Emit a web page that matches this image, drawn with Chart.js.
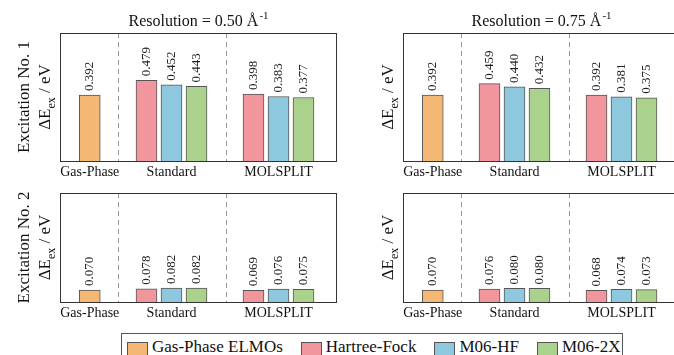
<!DOCTYPE html>
<html>
<head>
<meta charset="utf-8">
<script src="https://cdn.jsdelivr.net/npm/chart.js@4/dist/chart.umd.min.js"></script>
<style>
  html, body { margin: 0; padding: 0; background: #fff; width: 674px; height: 355px; overflow: hidden; }
  .panel { position: absolute; }
  #legend {
    position: absolute; left: 121px; top: 333px; width: 502px; height: 40px;
    box-sizing: border-box; border: 1px solid #555; padding: 3px 0 0 5px;
    display: flex; font-family: 'Liberation Serif', 'Times New Roman', serif; font-size: 17px; color: #111;
  }
  #legend .item { display: flex; align-items: flex-start; line-height: 19px; margin-right: 18px; white-space: nowrap; }
  #legend .swatch { width: 21px; height: 14px; box-sizing: border-box; border: 1px solid #555; margin: 5px 4px 0 0; }
</style>
</head>
<body>
<div class="panel" style="left:0;top:0;width:340px;height:182px"><canvas id="c1"></canvas></div>
<div class="panel" style="left:340px;top:0;width:343px;height:182px"><canvas id="c2"></canvas></div>
<div class="panel" style="left:0;top:182px;width:340px;height:141px"><canvas id="c3"></canvas></div>
<div class="panel" style="left:340px;top:182px;width:343px;height:141px"><canvas id="c4"></canvas></div>
<div id="legend"></div>
<script>
// categories and series
const groups = ['Gas-Phase', 'Standard', 'MOLSPLIT'];
const series = ['Gas-Phase ELMOs', 'Hartree-Fock', 'M06-HF', 'M06-2X'];
const colors = ['#F5B774', '#F1969C', '#8EC8DE', '#AAD28C'];

// values per panel: [gas-phase, standard HF, M06-HF, M06-2X, molsplit HF, M06-HF, M06-2X]
const exc1Res050 = [0.392, 0.479, 0.452, 0.443, 0.398, 0.383, 0.377];
const exc1Res075 = [0.392, 0.459, 0.440, 0.432, 0.392, 0.381, 0.375];
const exc2Res050 = [0.070, 0.078, 0.082, 0.082, 0.069, 0.076, 0.075];
const exc2Res075 = [0.070, 0.076, 0.080, 0.080, 0.068, 0.074, 0.073];

// layout on the x axis (slot units)
const SLOT = [0, 2.27, 3.27, 4.27, 6.55, 7.55, 8.55];
const SLOT_SERIES = [0, 1, 2, 3, 1, 2, 3];
const GROUP_POS = [0, 3.27, 7.55];
const DIVIDERS = [1.13, 5.45];

const SERIF = "'Liberation Serif', 'Times New Roman', serif";

function buildDatasets(values) {
  return series.map((name, s) => ({
    label: name,
    data: values.map((v, i) => ({ x: SLOT[i], y: v })).filter((p, i) => SLOT_SERIES[i] === s),
    backgroundColor: colors[s],
    borderColor: '#555',
    borderWidth: 1,
    barThickness: 21,
    grouped: false
  }));
}

const panelDeco = {
  id: 'panelDeco',
  beforeDatasetsDraw(chart, args, opts) {
    const ctx = chart.ctx, a = chart.chartArea, xs = chart.scales.x;
    ctx.save();
    ctx.strokeStyle = '#999';
    ctx.lineWidth = 1;
    ctx.setLineDash([5, 4]);
    DIVIDERS.forEach(d => {
      const px = Math.round(xs.getPixelForValue(d)) + 0.5;
      ctx.beginPath();
      ctx.moveTo(px, a.top);
      ctx.lineTo(px, a.bottom);
      ctx.stroke();
    });
    ctx.restore();
  },
  afterDatasetsDraw(chart, args, opts) {
    const ctx = chart.ctx, a = chart.chartArea;
    ctx.save();
    // frame
    ctx.strokeStyle = '#333';
    ctx.lineWidth = 1;
    ctx.strokeRect(a.left + 0.5, a.top + 0.5, a.right - a.left - 1, a.bottom - a.top);

    // value labels
    ctx.fillStyle = '#222';
    ctx.font = '13px ' + SERIF;
    ctx.textAlign = 'left';
    ctx.textBaseline = 'middle';
    chart.data.datasets.forEach((ds, di) => {
      chart.getDatasetMeta(di).data.forEach((bar, i) => {
        ctx.save();
        ctx.translate(bar.x, bar.y - 4);
        ctx.rotate(-Math.PI / 2);
        ctx.fillText(ds.data[i].y.toFixed(3), 0, 0);
        ctx.restore();
      });
    });

    const yc = (a.top + a.bottom) / 2;
    ctx.textBaseline = 'alphabetic';

    // ΔE_ex / eV
    ctx.save();
    ctx.translate(a.left - 10, yc);
    ctx.rotate(-Math.PI / 2);
    ctx.font = '17px ' + SERIF;
    const w1 = ctx.measureText('\u0394E').width;
    const w3 = ctx.measureText(' / eV').width;
    ctx.font = '12px ' + SERIF;
    const w2 = ctx.measureText('ex').width;
    let x0 = -(w1 + w2 + w3) / 2;
    ctx.font = '17px ' + SERIF;
    ctx.fillStyle = '#111';
    ctx.fillText('\u0394E', x0, 0);
    ctx.font = '12px ' + SERIF;
    ctx.fillText('ex', x0 + w1, 5);
    ctx.font = '17px ' + SERIF;
    ctx.fillText(' / eV', x0 + w1 + w2, 0);
    ctx.restore();

    // row label
    if (opts.rowLabel) {
      ctx.save();
      ctx.translate(a.left - 31, yc);
      ctx.rotate(-Math.PI / 2);
      ctx.font = '17px ' + SERIF;
      ctx.fillStyle = '#111';
      ctx.textAlign = 'center';
      ctx.fillText(opts.rowLabel, 0, 0);
      ctx.restore();
    }

    // column title with superscript
    if (opts.title) {
      ctx.font = '16px ' + SERIF;
      const tw = ctx.measureText(opts.title).width;
      ctx.font = '11px ' + SERIF;
      const sw = ctx.measureText('-1').width;
      const xc = (a.left + a.right) / 2;
      const tx = xc - (tw + sw + 1) / 2;
      ctx.fillStyle = '#111';
      ctx.textAlign = 'left';
      ctx.font = '16px ' + SERIF;
      ctx.fillText(opts.title, tx, 26);
      ctx.font = '11px ' + SERIF;
      ctx.fillText('-1', tx + tw + 1, 19);
    }
    ctx.restore();
  }
};

function makeChart(id, values, ymax, pad, deco) {
  return new Chart(document.getElementById(id), {
    type: 'bar',
    data: { datasets: buildDatasets(values) },
    plugins: [panelDeco],
    options: {
      animation: false,
      responsive: true,
      maintainAspectRatio: false,
      layout: { padding: pad },
      plugins: {
        legend: { display: false },
        tooltip: { enabled: false },
        title: { display: false },
        panelDeco: deco
      },
      scales: {
        x: {
          type: 'linear',
          min: -1.19,
          max: 9.89,
          offset: false,
          grid: { display: false, drawTicks: false, offset: false },
          border: { display: false },
          afterBuildTicks: scale => { scale.ticks = GROUP_POS.map(v => ({ value: v })); },
          afterFit: scale => { scale.height = 21; },
          ticks: {
            autoSkip: false,
            maxRotation: 0,
            padding: 3,
            color: '#111',
            font: { family: SERIF, size: 14 },
            callback: (value, index) => groups[index]
          }
        },
        y: {
          display: false,
          min: 0,
          max: ymax
        }
      }
    }
  });
}

makeChart('c1', exc1Res050, 0.76, { left: 60, right: 3, top: 33, bottom: 0 },
  { title: 'Resolution = 0.50 \u00C5', rowLabel: 'Excitation No. 1' });
makeChart('c2', exc1Res075, 0.76, { left: 63, right: 3, top: 33, bottom: 0 },
  { title: 'Resolution = 0.75 \u00C5' });
makeChart('c3', exc2Res050, 0.64, { left: 60, right: 3, top: 11, bottom: 0 },
  { rowLabel: 'Excitation No. 2' });
makeChart('c4', exc2Res075, 0.64, { left: 63, right: 3, top: 11, bottom: 0 }, {});

// legend
const legend = document.getElementById('legend');
series.forEach((name, s) => {
  const item = document.createElement('div');
  item.className = 'item';
  const sw = document.createElement('span');
  sw.className = 'swatch';
  sw.style.background = colors[s];
  const label = document.createElement('span');
  label.textContent = name;
  item.appendChild(sw);
  item.appendChild(label);
  legend.appendChild(item);
});
</script>
</body>
</html>
